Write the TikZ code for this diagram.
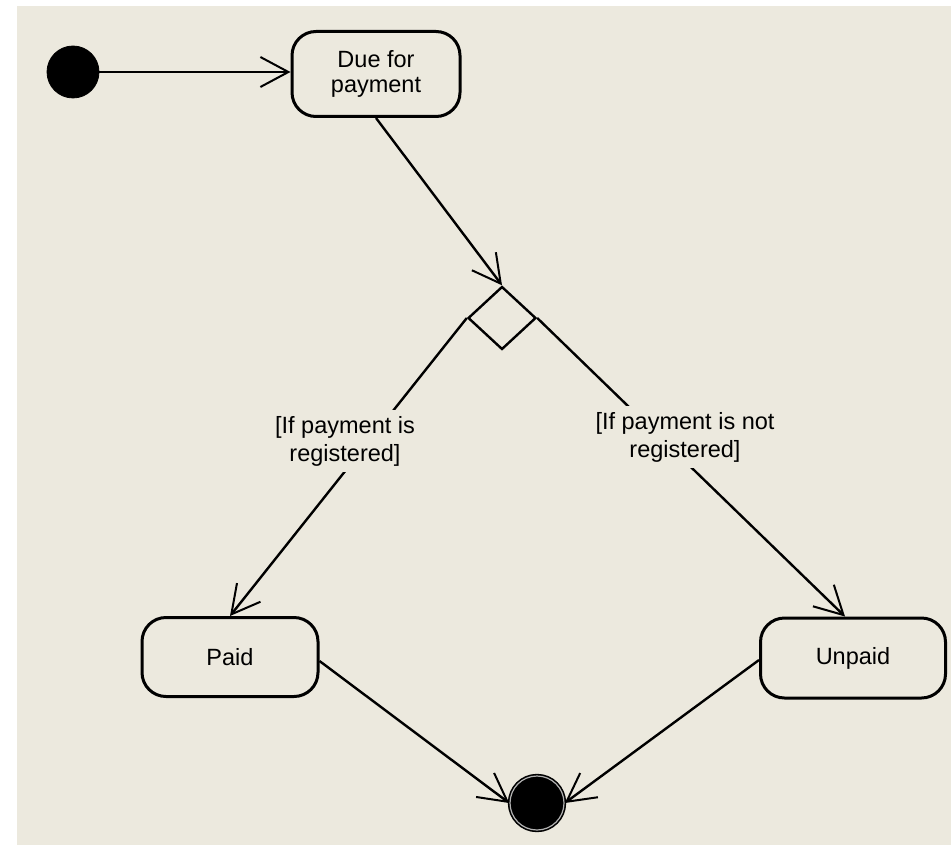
\documentclass[tikz,border=0pt]{standalone}
\usepackage{fontspec}
\setmainfont{Liberation Sans}
\usetikzlibrary{arrows.meta,shapes.geometric}
\definecolor{canvas}{RGB}{236,233,222}
\tikzset{
  state/.style={draw, line width=1.5pt, rounded corners=12pt, inner sep=0pt,
    align=center, font=\fontsize{11.75}{12.5}\selectfont},
  guard/.style={fill=canvas, inner sep=3pt, align=center,
    font=\fontsize{11.75}{14}\selectfont},
  flow/.style={line width=1.2pt, -{Straight Barb[length=14pt,width=15pt,line width=1pt]}}
}
\begin{document}
\begin{tikzpicture}[x=0.5pt,y=-0.5pt]
  \useasboundingbox (0,0) rectangle (951,845);
  \fill[canvas] (17,6) rectangle (951,845);

  % states
  \node[circle, fill=black, draw=black, minimum size=26pt, inner sep=0pt] (start) at (73,72) {};
  \node[state, minimum width=84pt, minimum height=42.5pt] (due) at (376,74) {Due for\\payment};
  \node[diamond, draw, line width=1.2pt, minimum width=34pt, minimum height=31.5pt, inner sep=0pt] (dia) at (502,318) {};
  \node[state, minimum width=88pt, minimum height=39.5pt] (paid) at (230,657) {Paid};
  \node[state, minimum width=92.5pt, minimum height=40pt] (unpaid) at (853,658) {Unpaid};
  \node[circle, fill=black, draw=black, double=gray!60, double distance=0.6pt,
        line width=0.8pt, minimum size=27pt, inner sep=0pt] (fin) at (537,803) {};

  % transitions
  \draw[flow] (start) -- (start -| due.west);
  \draw[flow] (due.south) -- (dia.north);
  \draw[flow] (dia.west) -- (paid.north);
  \draw[flow] (dia.east) -- ([xshift=-4pt]unpaid.north);
  \draw[flow] ([yshift=-2pt]paid.east) -- (fin.west);
  \draw[flow] ([yshift=-1pt]unpaid.west) -- (fin.east);

  % guard conditions
  \node[guard] (g1) at (345,441) {[If payment is\\registered]};
  \node[guard] (g2) at (685,437) {[If payment is not\\registered]};
\end{tikzpicture}
\end{document}
